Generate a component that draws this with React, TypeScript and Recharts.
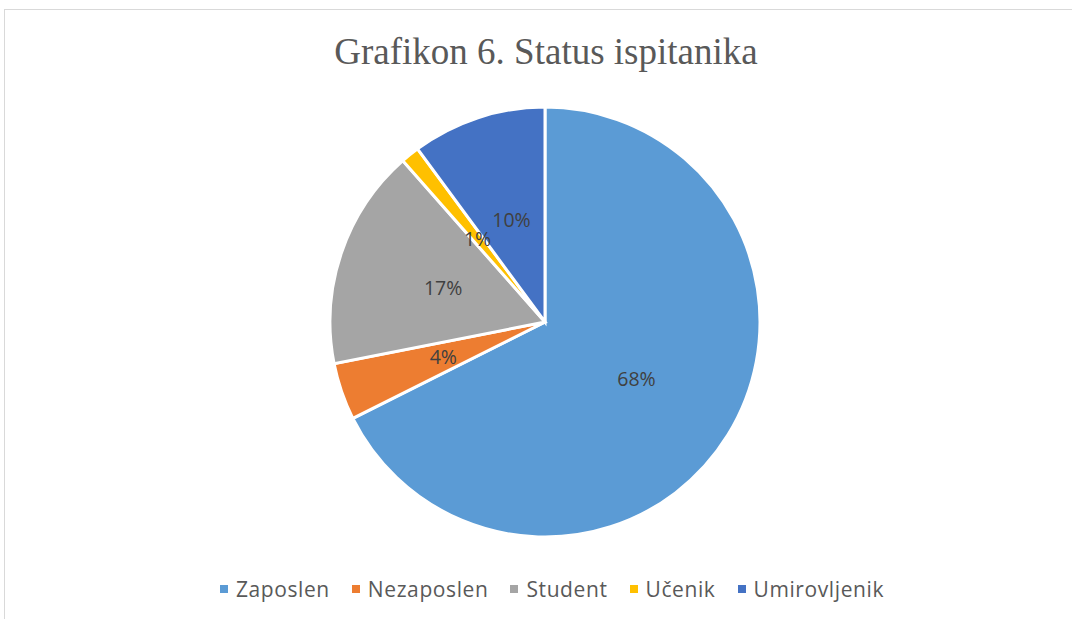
import { PieChart, Pie, Cell, Legend } from 'recharts';

const CATEGORIES = ['Zaposlen', 'Nezaposlen', 'Student', 'Učenik', 'Umirovljenik'];
const VALUES = [67.6, 4.3, 16.6, 1.4, 10.1];

const COLORS = [
    '#5B9BD5', // blue
    '#ED7D31', // orange
    '#A5A5A5', // gray
    '#FFC000', // gold
    '#4472C4', // dark blue
];

const data = CATEGORIES.map((name, i) => ({ name, value: VALUES[i] }));

const RADIAN = Math.PI / 180;
const FONT = "'Open Sans', 'Liberation Sans', Arial, sans-serif";

const renderLabel = (props: any) => {
    const { cx, cy, midAngle, outerRadius, percent } = props;
    const r = outerRadius * 0.5;
    const x = cx + r * Math.cos(-midAngle * RADIAN);
    const y = cy + r * Math.sin(-midAngle * RADIAN);
    return (
        <text
            x={x}
            y={y}
            fill="#404040"
            fontSize={19.5}
            fontFamily={FONT}
            textAnchor="middle"
            dominantBaseline="central"
        >
            {`${Math.round(percent * 100)}%`}
        </text>
    );
};

const renderLegend = (props: any) => {
    // keep the original category order
    const payload = [...(props.payload || [])].sort(
        (a: any, b: any) => CATEGORIES.indexOf(a.value) - CATEGORIES.indexOf(b.value)
    );
    return (
        <div style={{ display: 'flex', justifyContent: 'center', gap: 22 }}>
            {payload.map((entry: any, i: number) => (
                <div key={`leg-${i}`} style={{ display: 'flex', alignItems: 'center' }}>
                    <span style={{ width: 8, height: 8, background: entry.color, marginRight: 8, display: 'inline-block' }} />
                    <span style={{ color: '#595959', fontSize: 21, letterSpacing: 0.6, fontFamily: FONT }}>
                        {entry.value}
                    </span>
                </div>
            ))}
        </div>
    );
};

export default function App() {
    return (
        <div style={{ position: 'absolute', left: 0, top: 0, width: 1072, height: 619, overflow: 'hidden', background: '#fff' }}>
            <div style={{ position: 'absolute', left: 4, top: 9, width: 1100, height: 700, border: '1px solid #d9d9d9' }} />
            <div
                style={{
                    position: 'absolute',
                    left: 0,
                    width: 1092,
                    top: 30,
                    textAlign: 'center',
                    fontFamily: "'Liberation Serif', 'Times New Roman', serif",
                    fontSize: 37,
                    color: '#595959',
                }}
            >
                Grafikon 6. Status ispitanika
            </div>
            <PieChart
                width={1072}
                height={619}
                margin={{ top: 0, right: 0, bottom: 0, left: 0 }}
                style={{ position: 'absolute', left: 0, top: 0 }}
            >
                <Pie
                    data={data}
                    dataKey="value"
                    nameKey="name"
                    cx={545}
                    cy={322}
                    outerRadius={215}
                    startAngle={90}
                    endAngle={-270}
                    stroke="#ffffff"
                    strokeWidth={3}
                    labelLine={false}
                    label={renderLabel}
                    isAnimationActive={false}
                >
                    {data.map((_entry, index) => (
                        <Cell key={`cell-${index}`} fill={COLORS[index % COLORS.length]} />
                    ))}
                </Pie>
                <Legend
                    verticalAlign="bottom"
                    content={renderLegend}
                    wrapperStyle={{ bottom: 16, left: 16, width: 1072 }}
                />
            </PieChart>
        </div>
    );
}
